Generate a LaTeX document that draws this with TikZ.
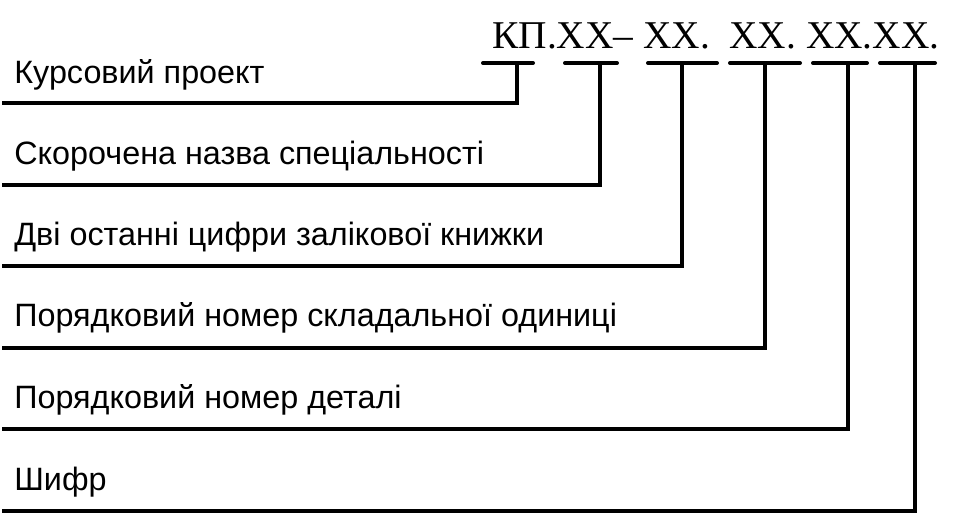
\documentclass[tikz,border=0pt]{standalone}
\usepackage{fontspec}
\setmainfont{Liberation Sans}
\newfontfamily\codefont{Liberation Serif}
\usepackage{tikz}
\usetikzlibrary{positioning,calc}

\begin{document}
\begin{tikzpicture}[x=0.02cm,y=-0.02cm,
        wire/.style={line width=0.08cm},
        bar/.style={line width=0.08cm, line cap=round},
        field/.style={anchor=base west, inner sep=0pt, font=\fontsize{18.4}{22}\selectfont},
        code/.style={anchor=base west, inner sep=0pt, font=\codefont\fontsize{22.4}{26}\selectfont}]
        \useasboundingbox (0,0) rectangle (970,515);
        % designation
        \node[code] (des) at (492,48) {КП.XX– XX.\ \ XX. XX.XX.};
        % T-bar tops
        \coordinate (t1) at (517,63);
        \coordinate (t2) at (600,63);
        \coordinate (t3) at (682,63);
        \coordinate (t4) at (765,63);
        \coordinate (t5) at (848,63);
        \coordinate (t6) at (915,63);
        \draw[bar] (483,63) -- (533,63);
        \draw[bar] (565,63) -- (617,63);
        \draw[bar] (648,63) -- (717,63);
        \draw[bar] (730,63) -- (800,63);
        \draw[bar] (813,63) -- (867,63);
        \draw[bar] (880,63) -- (935,63);
        % left ends of the leader lines
        \coordinate (l1) at (2,103);
        \coordinate (l2) at (2,184.6);
        \coordinate (l3) at (2,266.2);
        \coordinate (l4) at (2,347.8);
        \coordinate (l5) at (2,429.4);
        \coordinate (l6) at (2,511);
        % field names
        \node[field] (f1) at (14,83) {Курсовий проект};
        \node[field] (f2) at (14,164.4) {Скорочена назва спеціальності};
        \node[field] (f3) at (14,245.8) {Дві останні цифри залікової книжки};
        \node[field] (f4) at (14,326.5) {Порядковий номер складальної одиниці};
        \node[field] (f5) at (14,408.3) {Порядковий номер деталі};
        \node[field] (f6) at (14,490) {Шифр};
        % leaders
        \draw[wire] (l1) -| (t1);
        \draw[wire] (l2) -| (t2);
        \draw[wire] (l3) -| (t3);
        \draw[wire] (l4) -| (t4);
        \draw[wire] (l5) -| (t5);
        \draw[wire] (l6) -| (t6);
    \end{tikzpicture}
\end{document}
